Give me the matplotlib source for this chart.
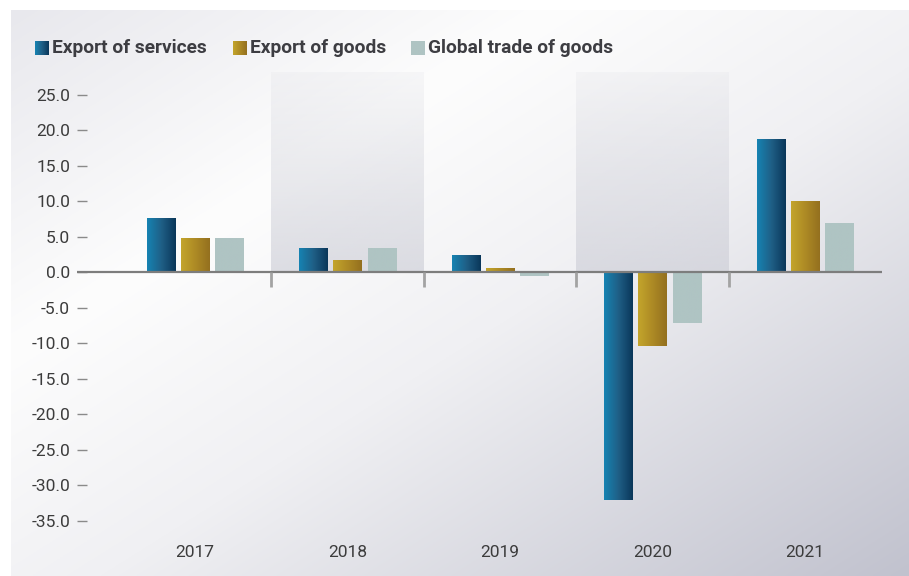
import numpy as np
import matplotlib.pyplot as plt
from matplotlib.colors import LinearSegmentedColormap, to_rgb
from matplotlib.patches import Rectangle

plt.rcParams['font.family'] = ['Roboto', 'DejaVu Sans']

# data
years = ['2017', '2018', '2019', '2020', '2021']
export_services = [7.6, 3.4, 2.4, -32.0, 18.7]
export_goods = [4.8, 1.8, 0.6, -10.3, 10.0]
global_trade = [4.8, 3.4, -0.5, -7.1, 6.9]
series_names = ['Export of services', 'Export of goods', 'Global trade of goods']
yticks = [25, 20, 15, 10, 5, 0, -5, -10, -15, -20, -25, -30, -35]

# bar gradients (left -> right)
cm_services = LinearSegmentedColormap.from_list('s', ['#1683b2', '#1f5f86', '#0a375a'])
cm_goods = LinearSegmentedColormap.from_list('g', ['#c3a52c', '#ad8a25', '#94701f'])
cm_global = LinearSegmentedColormap.from_list('t', ['#afc4c3', '#afc4c3'])
cmaps = [cm_services, cm_goods, cm_global]

W, H = 909, 576
fig = plt.figure(figsize=(W / 100, H / 100), dpi=100)
fig.patch.set_facecolor('white')

# background gradient panel
bg = fig.add_axes([11 / W, 0, 1 - 11 / W, 1 - 10 / H], zorder=-2)
yy, xx = np.mgrid[0:1:300j, 0:1:400j]
t = (xx + yy) / 2
stops = [0, 0.3, 0.55, 1.0]
cols = [to_rgb(c) for c in ['#e8e8ed', '#fdfdfd', '#f0f0f3', '#c1c2ce']]
img = np.zeros(t.shape + (3,))
for k in range(3):
    img[..., k] = np.interp(t, stops, [c[k] for c in cols])
bg.imshow(img, aspect='auto', extent=[0, 1, 0, 1], origin='upper')
bg.axis('off')

# main axes
ax = fig.add_axes([77 / W, (H - 521) / H, (882 - 77) / W, (521 - 72) / H])
ax.set_facecolor('none')
x = np.arange(len(years))
ymax, ymin = 28.2, -35

# shaded bands for 2018 and 2020
band = np.ones((100, 1, 4))
band[..., :3] = to_rgb('#cdced7')
band[:, 0, 3] = np.linspace(0.12, 0.65, 100)
for i in [1, 3]:
    ax.imshow(band, extent=[i - 0.5, i + 0.5, 0, ymax], aspect='auto', origin='upper', zorder=0)

w = 0.184
offs = [-0.225, 0, 0.225]
grad = np.linspace(0, 1, 64).reshape(1, -1)
for vals, off, cm in zip([export_services, export_goods, global_trade], offs, cmaps):
    bars = ax.bar(x + off, vals, width=w, color='none', linewidth=0, zorder=3)
    for b in bars:
        x0, y0 = b.get_x(), b.get_y()
        im = ax.imshow(grad, cmap=cm, extent=[x0, x0 + b.get_width(), y0, y0 + b.get_height()],
                       aspect='auto', zorder=3)
        im.set_clip_path(b)

ax.axhline(0, color='#7d7d7d', lw=1.6, zorder=4)
ax.vlines(x[:-1] + 0.5, -2.1, 0, color='#a3a3a3', lw=2, zorder=4)

ax.set_xlim(-0.774, 4.505)
ax.set_ylim(ymin, ymax)
ax.set_yticks(yticks)
ax.set_yticklabels([f'{v:.1f}' for v in yticks])
ax.set_xticks(x)
ax.set_xticklabels(years)
ax.tick_params(axis='y', direction='in', length=7, width=1, color='#8a8a8a',
               labelsize=12.5, labelcolor='#3c3c3c', pad=5)
ax.tick_params(axis='x', length=0, labelsize=12.5, labelcolor='#3c3c3c', pad=17)
for s in ax.spines.values():
    s.set_visible(False)

# legend drawn in pixel coordinates
lg = fig.add_axes([0, 0, 1, 1], zorder=5)
lg.set_xlim(0, W)
lg.set_ylim(H, 0)
lg.axis('off')
sq_x = [35, 233, 411]
for sx, name, cm in zip(sq_x, series_names, cmaps):
    r = Rectangle((sx, 41), 14, 14, color='none')
    lg.add_patch(r)
    im = lg.imshow(grad, cmap=cm, extent=[sx, sx + 14, 55, 41], aspect='auto')
    im.set_clip_path(r)
    lg.text(sx + 17, 48, name, fontsize=13.8, fontweight='bold', color='#3d3d42',
            va='center', ha='left')
lg.set_xlim(0, W)
lg.set_ylim(H, 0)

fig.savefig('out.png', dpi=100)
